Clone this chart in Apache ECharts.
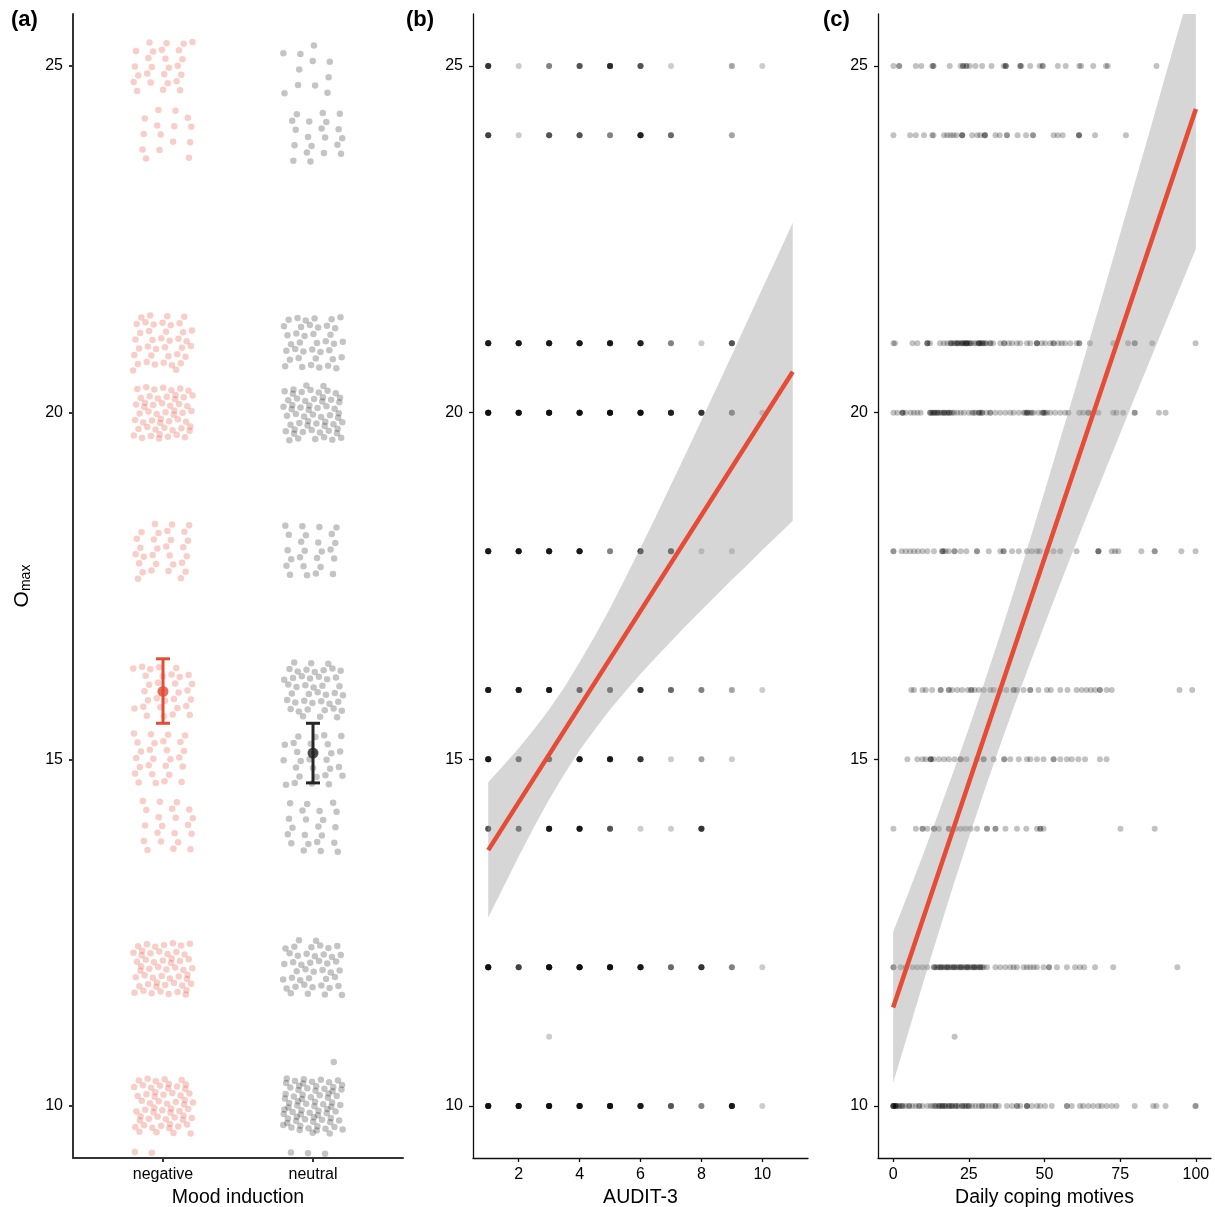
<!DOCTYPE html>
<html>
<head>
<meta charset="utf-8">
<script src="https://cdn.jsdelivr.net/npm/echarts@6/dist/echarts.min.js"></script>
<style>
  html, body { margin: 0; padding: 0; background: #fff; }
  #chart { width: 1215px; height: 1207px; }
</style>
</head>
<body>
<div id="chart"></div>
<script>
// ---------- (a) O_max by mood induction: counts of each score per group ----------
const scoreLevels    = [9, 10, 11, 12, 14, 15, 16, 18, 20, 21, 24, 25];
const negativeCounts = [18, 60, 0, 55, 21, 27, 32, 30, 55, 40, 15, 26];
const neutralCounts  = [20, 75, 1, 45, 22, 28, 45, 25, 60, 40, 20, 11];
const moodGroups = ['negative', 'neutral'];
const groupMeans = [15.98, 15.09];
const groupLower = [15.52, 14.66];
const groupUpper = [16.45, 15.52];

// ---------- (b) O_max by AUDIT-3: number of participants per cell ----------
const auditScores = [1, 2, 3, 4, 5, 6, 7, 8, 9, 10];
const auditAt25 = [7, 1, 3, 5, 8, 5, 1, 0, 2, 1];
const auditAt24 = [6, 1, 5, 5, 3, 9, 4, 0, 2, 0];
const auditAt21 = [10, 10, 10, 10, 10, 9, 3, 1, 5, 0];
const auditAt20 = [12, 12, 12, 12, 12, 12, 9, 7, 3, 1];
const auditAt18 = [10, 10, 10, 10, 3, 6, 5, 1, 1, 0];
const auditAt16 = [10, 10, 10, 5, 4, 7, 4, 3, 2, 1];
const auditAt15 = [10, 4, 4, 10, 10, 7, 1, 2, 1, 0];
const auditAt14 = [5, 4, 10, 10, 5, 1, 1, 7, 0, 0];
const auditAt12 = [12, 6, 12, 12, 12, 10, 4, 7, 3, 1];
const auditAt11 = [0, 0, 1, 0, 0, 0, 0, 0, 0, 0];
const auditAt10 = [12, 12, 12, 12, 12, 10, 5, 3, 10, 1];
const auditRows = [
  [25, auditAt25], [24, auditAt24], [21, auditAt21], [20, auditAt20],
  [18, auditAt18], [16, auditAt16], [15, auditAt15], [14, auditAt14],
  [12, auditAt12], [11, auditAt11], [10, auditAt10]
];
// linear fit and its 95% band
const auditFitX     = [1, 11];
const auditFitY     = [13.69, 20.59];
const auditBandX    = [1, 1.5, 2, 2.5, 3, 3.5, 4, 4.5, 5, 5.5, 6, 6.5, 7, 7.5, 8, 8.5, 9, 9.5, 10, 10.5, 11];
const auditBandLow  = [12.72, 13.16, 13.60, 14.02, 14.42, 14.79, 15.13, 15.43, 15.72, 15.98, 16.23, 16.47, 16.70, 16.93, 17.15, 17.37, 17.59, 17.80, 18.02, 18.23, 18.44];
const auditBandHigh = [14.67, 14.91, 15.16, 15.43, 15.72, 16.04, 16.40, 16.78, 17.18, 17.61, 18.05, 18.50, 18.96, 19.42, 19.89, 20.36, 20.83, 21.31, 21.79, 22.26, 22.74];

// ---------- (c) O_max by daily coping motives ----------
const copingAt25 = [0.1, 2.0, 2.0, 7.5, 9.3, 12.9, 13.3, 13.3, 18.7, 22.3, 23.1, 23.1, 24.2, 24.2, 25.3, 27.2, 29.4, 32.5, 36.5, 37.2, 37.2, 37.2, 42.0, 42.0, 42.3, 45.3, 48.4, 49.4, 49.4, 54.4, 57.0, 61.5, 62.1, 66.1, 70.3, 70.9, 87.0];
const copingAt24 = [0.1, 5.6, 7.5, 10.2, 12.9, 13.3, 16.8, 17.9, 19.0, 19.9, 20.9, 22.8, 22.8, 22.8, 26.1, 27.8, 28.8, 30.3, 30.3, 30.3, 33.8, 35.2, 37.6, 37.6, 41.1, 43.9, 46.2, 46.2, 53.0, 54.4, 56.0, 61.4, 61.4, 61.4, 66.7, 76.9];
const copingAt21 = [0.1, 0.6, 6.4, 8.0, 11.3, 11.3, 11.3, 12.2, 15.5, 16.8, 17.9, 19.0, 19.0, 19.5, 20.1, 20.6, 21.2, 21.2, 21.6, 22.2, 22.8, 22.8, 23.2, 23.6, 24.2, 24.2, 24.2, 24.6, 25.3, 25.3, 25.8, 26.7, 27.4, 28.3, 28.3, 28.3, 28.8, 29.4, 29.4, 29.9, 30.4, 30.8, 32.1, 32.1, 33.0, 35.4, 36.7, 36.7, 38.2, 39.3, 40.9, 42.0, 44.2, 45.3, 47.5, 47.5, 47.5, 49.1, 50.2, 51.9, 53.0, 53.0, 54.6, 55.7, 56.8, 58.5, 60.6, 61.5, 61.5, 65.0, 72.7, 77.6, 79.8, 79.8, 85.6, 99.9];
const copingAt20 = [0.1, 1.4, 3.1, 3.1, 3.1, 4.2, 5.8, 6.9, 8.0, 9.1, 12.2, 12.2, 12.6, 13.0, 13.5, 13.5, 14.0, 14.6, 14.6, 15.1, 15.7, 16.2, 16.8, 16.8, 17.3, 17.9, 18.4, 18.4, 19.0, 19.5, 20.1, 21.2, 22.3, 23.4, 25.0, 26.1, 26.6, 27.2, 28.3, 28.3, 28.8, 29.4, 29.4, 30.8, 32.1, 32.1, 33.8, 35.4, 37.1, 38.7, 39.8, 41.5, 43.1, 43.6, 44.2, 44.2, 44.6, 45.3, 45.8, 46.4, 48.0, 49.2, 49.7, 49.7, 50.2, 50.8, 51.9, 53.5, 55.2, 56.8, 57.9, 61.5, 62.8, 64.5, 64.5, 66.1, 67.8, 72.7, 73.8, 76.0, 79.8, 79.8, 87.8, 90.0];
const copingAt18 = [0.1, 0.1, 2.8, 4.2, 5.6, 6.9, 8.2, 9.7, 11.3, 13.5, 16.2, 16.2, 16.6, 17.3, 18.4, 20.3, 20.3, 22.3, 24.2, 27.7, 27.7, 31.6, 35.4, 36.5, 36.5, 39.3, 41.5, 44.2, 45.8, 47.5, 48.4, 50.8, 53.0, 55.2, 60.6, 67.8, 67.8, 67.8, 72.2, 73.3, 74.4, 82.0, 86.4, 86.4, 95.2, 99.9];
const copingAt16 = [6.0, 6.9, 9.7, 10.8, 12.9, 15.7, 15.7, 18.4, 18.4, 19.5, 21.2, 22.8, 24.7, 25.8, 25.8, 26.9, 28.3, 29.9, 32.1, 33.2, 35.4, 37.4, 39.8, 39.8, 40.9, 43.1, 45.3, 45.3, 48.0, 50.8, 52.1, 55.2, 57.6, 60.6, 62.3, 63.9, 65.3, 66.7, 68.3, 68.3, 70.5, 72.2, 94.6, 98.8];
const copingAt15 = [4.7, 8.0, 9.7, 10.8, 12.4, 12.4, 12.4, 13.3, 15.1, 16.8, 18.4, 20.3, 22.3, 22.3, 24.2, 27.7, 29.9, 29.9, 33.2, 36.7, 36.7, 38.7, 41.5, 44.2, 45.3, 47.5, 49.7, 53.0, 53.0, 55.2, 57.4, 59.0, 61.2, 63.4, 68.3, 70.5];
const copingAt14 = [0.1, 7.5, 9.7, 9.7, 11.3, 13.5, 13.5, 15.1, 18.4, 18.4, 20.6, 22.3, 23.9, 25.6, 27.7, 31.0, 31.0, 33.8, 33.8, 37.1, 40.9, 44.0, 47.5, 48.6, 48.6, 49.7, 75.1, 86.4];
const copingAt12 = [0.1, 0.1, 2.5, 4.2, 6.4, 8.0, 9.7, 11.3, 13.5, 13.5, 14.0, 14.6, 15.1, 15.7, 15.7, 16.2, 16.8, 17.3, 17.9, 17.9, 18.4, 19.0, 19.5, 20.1, 20.1, 20.6, 21.2, 21.7, 22.3, 22.3, 22.8, 23.4, 24.0, 24.5, 24.5, 25.0, 25.6, 26.2, 26.7, 26.7, 27.2, 27.7, 28.3, 28.8, 28.8, 29.4, 29.9, 31.0, 33.8, 35.4, 37.1, 38.7, 39.8, 40.9, 43.1, 44.2, 45.3, 46.4, 47.5, 49.7, 51.5, 51.5, 54.1, 57.4, 60.1, 61.7, 63.1, 66.7, 72.7, 93.9];
const copingAt11 = [20.3];
const copingAt10 = [0.1, 0.1, 0.1, 0.1, 0.1, 0.6, 0.9, 0.9, 0.9, 1.5, 2.0, 2.5, 3.1, 3.1, 4.2, 5.3, 5.3, 6.4, 7.5, 8.6, 8.6, 9.7, 11.3, 12.4, 13.2, 14.0, 14.0, 15.1, 15.1, 15.6, 16.2, 16.2, 16.8, 17.3, 17.3, 18.4, 18.4, 19.0, 19.5, 19.5, 20.6, 20.6, 21.2, 21.7, 22.8, 22.8, 23.4, 23.9, 24.4, 25.0, 25.0, 26.1, 27.2, 28.3, 29.4, 29.4, 30.5, 31.6, 32.7, 33.8, 33.8, 34.9, 37.6, 39.3, 40.9, 40.9, 42.0, 44.2, 44.2, 44.2, 45.8, 47.5, 48.6, 50.2, 52.4, 57.4, 57.4, 59.0, 61.7, 62.8, 64.5, 66.1, 67.8, 68.9, 70.5, 72.2, 73.8, 79.8, 85.9, 87.0, 90.0, 99.9, 99.9];
const copingRows = [
  [25, copingAt25], [24, copingAt24], [21, copingAt21], [20, copingAt20],
  [18, copingAt18], [16, copingAt16], [15, copingAt15], [14, copingAt14],
  [12, copingAt12], [11, copingAt11], [10, copingAt10]
];
const copingFitX     = [0, 100];
const copingFitY     = [11.42, 24.38];
const copingBandX    = [0, 5, 10, 15, 20, 25, 30, 35, 40, 45, 50, 55, 60, 65, 70, 75, 80, 85, 90, 95, 100];
const copingBandLow  = [10.33, 11.06, 11.79, 12.50, 13.20, 13.87, 14.53, 15.16, 15.77, 16.36, 16.94, 17.51, 18.07, 18.62, 19.16, 19.70, 20.24, 20.77, 21.30, 21.83, 22.36];
const copingBandHigh = [12.51, 13.07, 13.64, 14.23, 14.83, 15.45, 16.09, 16.75, 17.44, 18.14, 18.86, 19.59, 20.32, 21.07, 21.82, 22.58, 23.34, 24.10, 24.87, 25.63, 26.40];

const yTicks = [10, 15, 20, 25];

// ---------- helpers ----------
const FONT = '"Liberation Sans", Arial, sans-serif';
const RED = '#E64B35';
const DARK = '#262626';

// quasi-random (R2 sequence) jitter, width ±0.2 and height ±0.4
const R2a = 0.7548776662466927, R2b = 0.5698402909980532;
function jitterOffset(n) {
  const u = (0.5 + n * R2a) % 1;
  const v = (0.5 + n * R2b) % 1;
  return [(u - 0.5) * 0.4, (v - 0.5) * 0.8];
}
function jitteredGroup(groupX, counts, start) {
  const pts = [];
  let n = start;
  scoreLevels.forEach((lvl, i) => {
    for (let k = 0; k < counts[i]; k++) {
      const d = jitterOffset(n++);
      pts.push([groupX + d[0], lvl + d[1]]);
    }
  });
  return pts;
}

const auditPoints = [];
auditRows.forEach(([score, counts]) => {
  counts.forEach((c, i) => {
    for (let k = 0; k < c; k++) auditPoints.push([auditScores[i], score]);
  });
});

const copingPoints = [];
copingRows.forEach(([score, xs]) => xs.forEach(x => copingPoints.push([x, score])));

// confidence band drawn as one polygon, clipped to the plotting area
function bandSeries(idx, xs, low, high) {
  return {
    type: 'custom', xAxisIndex: idx, yAxisIndex: idx, silent: true, z: 3,
    data: [[xs[0], low[0]]],
    renderItem: function (params, api) {
      const pts = [];
      xs.forEach((x, i) => pts.push(api.coord([x, high[i]])));
      for (let i = xs.length - 1; i >= 0; i--) pts.push(api.coord([xs[i], low[i]]));
      const cs = params.coordSys;
      return {
        type: 'polygon',
        shape: { points: pts },
        style: { fill: 'rgba(153,153,153,0.4)' },
        clipPath: { type: 'rect', shape: { x: cs.x, y: cs.y, width: cs.width, height: cs.height } }
      };
    }
  };
}

function fitSeries(idx, xs, ys) {
  return {
    type: 'line', xAxisIndex: idx, yAxisIndex: idx,
    data: xs.map((x, i) => [x, ys[i]]),
    symbol: 'none', lineStyle: { color: RED, width: 4.5 }, silent: true, clip: true, z: 4
  };
}

const tickText = { color: '#000', fontSize: 16, fontFamily: FONT };
const nameText = { color: '#000', fontSize: 19.5, fontFamily: FONT };

function yAxisFor(idx, lineWidth, lineColor) {
  const ax = {
    type: 'value', gridIndex: idx, min: 9.25, max: 25.75,
    axisLine: { show: true, onZero: false, lineStyle: { color: lineColor, width: lineWidth } },
    axisTick: { show: true, length: 4, customValues: yTicks, lineStyle: { color: lineColor, width: lineWidth } },
    axisLabel: { customValues: yTicks, margin: 10, ...tickText },
    splitLine: { show: false }
  };
  if (idx === 0) {
    ax.name = '{o|O}{s|max}';
    ax.nameLocation = 'middle';
    ax.nameGap = 40;
    ax.nameTextStyle = {
      rich: {
        o: { fontSize: 21, fontFamily: FONT, color: '#000' },
        s: { fontSize: 14, fontFamily: FONT, color: '#000', verticalAlign: 'bottom', padding: [8, 0, 0, 0] }
      }
    };
  }
  return ax;
}

function xAxisFor(idx, min, max, ticks, name, lineWidth, lineColor, fmt) {
  return {
    type: 'value', gridIndex: idx, min: min, max: max,
    name: name, nameLocation: 'middle', nameGap: 30, nameTextStyle: nameText,
    axisLine: { show: true, onZero: false, lineStyle: { color: lineColor, width: lineWidth } },
    axisTick: { show: true, length: 4, customValues: ticks, lineStyle: { color: lineColor, width: lineWidth } },
    axisLabel: { customValues: ticks, margin: 9, formatter: fmt, ...tickText },
    splitLine: { show: false }
  };
}

const panelTitle = () => ({ color: '#000', fontSize: 22, fontWeight: 'bold', fontFamily: FONT });

const option = {
  animation: false,
  backgroundColor: '#fff',
  title: [
    { text: '(a)', left: 11, top: 9, padding: 0, textStyle: panelTitle() },
    { text: '(b)', left: 406, top: 9, padding: 0, textStyle: panelTitle() },
    { text: '(c)', left: 823, top: 9, padding: 0, textStyle: panelTitle() }
  ],
  grid: [
    { left: 73, top: 14, width: 330, height: 1144, outerBoundsMode: 'none', containLabel: false },
    { left: 473, top: 14, width: 335, height: 1144, outerBoundsMode: 'none', containLabel: false },
    { left: 878, top: 14, width: 333, height: 1144, outerBoundsMode: 'none', containLabel: false }
  ],
  xAxis: [
    xAxisFor(0, 0.4, 2.6, [1, 2], 'Mood induction', 2, '#333', v => moodGroups[Math.round(v) - 1] || ''),
    xAxisFor(1, 0.5, 11.5, [2, 4, 6, 8, 10], 'AUDIT-3', 1.3, '#111', v => String(v)),
    xAxisFor(2, -5, 105, [0, 25, 50, 75, 100], 'Daily coping motives', 1.3, '#111', v => String(v))
  ],
  yAxis: [yAxisFor(0, 2, '#333'), yAxisFor(1, 1.3, '#111'), yAxisFor(2, 1.3, '#111')],
  series: [
    // (a) jittered raw scores
    {
      type: 'scatter', xAxisIndex: 0, yAxisIndex: 0, symbolSize: 6.5, silent: true, clip: true,
      data: jitteredGroup(1, negativeCounts, 1),
      itemStyle: { color: RED, opacity: 0.27 }
    },
    {
      type: 'scatter', xAxisIndex: 0, yAxisIndex: 0, symbolSize: 6.5, silent: true, clip: true,
      data: jitteredGroup(2, neutralCounts, 1001),
      itemStyle: { color: '#000', opacity: 0.23 }
    },
    // (a) group mean ± error bar
    {
      type: 'custom', xAxisIndex: 0, yAxisIndex: 0, silent: true, z: 5,
      encode: { x: 0, y: [1, 2] },
      data: groupMeans.map((m, i) => ({
        value: [i + 1, groupLower[i], groupUpper[i]],
        itemStyle: { color: i === 0 ? RED : DARK }
      })),
      renderItem: function (params, api) {
        const x = api.value(0);
        const top = api.coord([x, api.value(2)]);
        const bot = api.coord([x, api.value(1)]);
        const half = 7;
        const style = { stroke: api.visual('color'), lineWidth: 3 };
        return {
          type: 'group',
          children: [
            { type: 'line', shape: { x1: top[0], y1: top[1], x2: bot[0], y2: bot[1] }, style: style },
            { type: 'line', shape: { x1: top[0] - half, y1: top[1], x2: top[0] + half, y2: top[1] }, style: style },
            { type: 'line', shape: { x1: bot[0] - half, y1: bot[1], x2: bot[0] + half, y2: bot[1] }, style: style }
          ]
        };
      }
    },
    {
      type: 'scatter', xAxisIndex: 0, yAxisIndex: 0, symbolSize: 11, silent: true, z: 6,
      data: groupMeans.map((m, i) => ({ value: [i + 1, m], itemStyle: { color: i === 0 ? RED : DARK } }))
    },
    // (b)
    {
      type: 'scatter', xAxisIndex: 1, yAxisIndex: 1, symbolSize: 6, silent: true, clip: true,
      data: auditPoints, itemStyle: { color: '#000', opacity: 0.2 }
    },
    bandSeries(1, auditBandX, auditBandLow, auditBandHigh),
    fitSeries(1, auditFitX, auditFitY),
    // (c)
    {
      type: 'scatter', xAxisIndex: 2, yAxisIndex: 2, symbolSize: 6, silent: true, clip: true,
      data: copingPoints, itemStyle: { color: '#000', opacity: 0.24 }
    },
    bandSeries(2, copingBandX, copingBandLow, copingBandHigh),
    fitSeries(2, copingFitX, copingFitY)
  ]
};

const chart = echarts.init(document.getElementById('chart'), null, { renderer: 'canvas' });
chart.setOption(option);
</script>
</body>
</html>
